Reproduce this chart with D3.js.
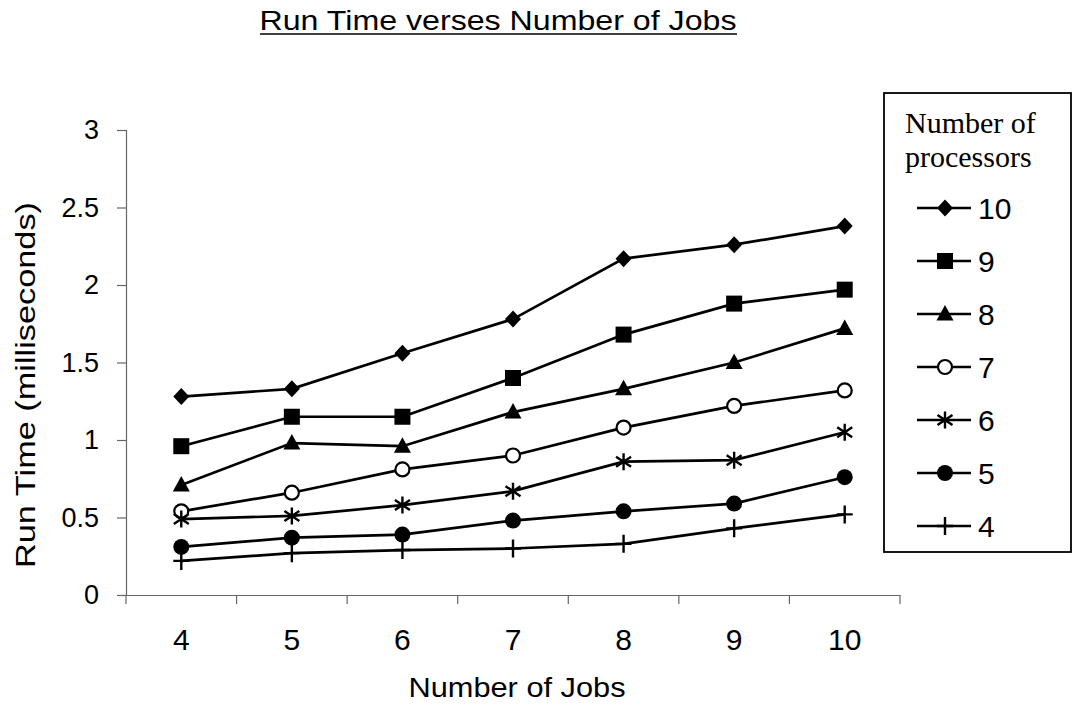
<!DOCTYPE html>
<html>
<head>
<meta charset="utf-8">
<script src="https://cdn.jsdelivr.net/npm/d3@7"></script>
<style>
  body { margin: 0; background: #fff; }
  svg text { font-family: "Liberation Sans", Arial, sans-serif; fill: #000; }
</style>
</head>
<body>
<svg></svg>
<script>
// number of jobs (x categories)
let jobs = ["4", "5", "6", "7", "8", "9", "10"]
let yTicks = [0, 0.5, 1, 1.5, 2, 2.5, 3]

// run time per number of processors
let p10 = [1.28, 1.33, 1.56, 1.78, 2.17, 2.26, 2.38]
let p9 = [0.96, 1.15, 1.15, 1.40, 1.68, 1.88, 1.97]
let p8 = [0.71, 0.98, 0.96, 1.18, 1.33, 1.50, 1.72]
let p7 = [0.54, 0.66, 0.81, 0.90, 1.08, 1.22, 1.32]
let p6 = [0.49, 0.51, 0.58, 0.67, 0.86, 0.87, 1.05]
let p5 = [0.31, 0.37, 0.39, 0.48, 0.54, 0.59, 0.76]
let p4 = [0.22, 0.27, 0.29, 0.30, 0.33, 0.43, 0.52]

let seriesNames = ["10", "9", "8", "7", "6", "5", "4"]
let seriesValues = [p10, p9, p8, p7, p6, p5, p4]
let markers = ["diamond", "square", "triangle", "openCircle", "asterisk", "circle", "plus"]

let width = 1074
let height = 712
let plotLeft = 126
let plotRight = 900
let plotTop = 130
let plotBottom = 595

let svg = d3.select("svg").attr("width", width).attr("height", height)

let xScale = d3.scaleBand().domain(jobs).range([plotLeft, plotRight])
let yScale = d3.scaleLinear().domain([0, 3]).range([plotBottom, plotTop])

// marker drawing
let drawMarker = (g, type) => {
    if (type == "diamond") {
        g.append("path").attr("d", "M0,-8.5L8,0L0,8.5L-8,0Z").attr("fill", "#000")
    } else if (type == "square") {
        g.append("rect").attr("x", -8).attr("y", -8).attr("width", 16).attr("height", 16).attr("fill", "#000")
    } else if (type == "triangle") {
        g.append("path").attr("d", "M0,-9L8.5,6.5L-8.5,6.5Z").attr("fill", "#000")
    } else if (type == "openCircle") {
        g.append("circle").attr("r", 7).attr("fill", "#fff").attr("stroke", "#000").attr("stroke-width", 2.2)
    } else if (type == "circle") {
        g.append("circle").attr("r", 8).attr("fill", "#000")
    } else if (type == "asterisk") {
        g.append("path").attr("d", "M0,-8.5L0,8.5M-7.5,-5L7.5,5M-7.5,5L7.5,-5")
            .attr("stroke", "#000").attr("stroke-width", 2.4).attr("fill", "none")
    } else if (type == "plus") {
        g.append("path").attr("d", "M0,-9L0,9M-8,0L8,0")
            .attr("stroke", "#000").attr("stroke-width", 2.4).attr("fill", "none")
    }
}

// axes
let xAxis = d3.axisBottom(xScale).tickSize(0).tickFormat("")
let xg = svg.append("g").attr("transform", "translate(0," + plotBottom + ")").call(xAxis)
xg.select(".domain").attr("stroke", "#666").attr("stroke-width", 1.2)
xg.selectAll(".bound")
    .data(d3.range(jobs.length + 1))
    .enter()
    .append("line")
    .attr("x1", i => plotLeft + i * xScale.step())
    .attr("x2", i => plotLeft + i * xScale.step())
    .attr("y1", 0).attr("y2", 9)
    .attr("stroke", "#666").attr("stroke-width", 1.2)

svg.selectAll(".xlab")
    .data(jobs)
    .enter()
    .append("text")
    .attr("x", d => xScale(d) + xScale.bandwidth() / 2)
    .attr("y", 650)
    .attr("text-anchor", "middle")
    .style("font-size", "30px")
    .text(d => d)

let yAxis = d3.axisLeft(yScale).tickValues(yTicks).tickSize(9).tickPadding(18)
    .tickFormat(d => d)
let yg = svg.append("g").attr("transform", "translate(" + plotLeft + ",0)").call(yAxis)
yg.select(".domain").attr("stroke", "#666").attr("stroke-width", 1.2)
yg.selectAll(".tick line").attr("stroke", "#666").attr("stroke-width", 1.2)
yg.selectAll(".tick text").style("font-size", "27px").attr("fill", "#000")
    .style("font-family", "'Liberation Sans', Arial, sans-serif")

// lines + markers
let line = d3.line()
    .x((d, i) => xScale(jobs[i]) + xScale.bandwidth() / 2)
    .y(d => yScale(d))

seriesValues.forEach((vals, s) => {
    svg.append("path")
        .datum(vals)
        .attr("d", line)
        .attr("fill", "none")
        .attr("stroke", "#000")
        .attr("stroke-width", 2.7)

    vals.forEach((v, i) => {
        let g = svg.append("g")
            .attr("transform", "translate(" + (xScale(jobs[i]) + xScale.bandwidth() / 2) + "," + yScale(v) + ")")
        drawMarker(g, markers[s])
    })
})

// titles
svg.append("text")
    .attr("x", 498).attr("y", 30)
    .attr("text-anchor", "middle")
    .attr("textLength", 477).attr("lengthAdjust", "spacingAndGlyphs")
    .style("font-size", "27px")
    .text("Run Time verses Number of Jobs")
svg.append("line")
    .attr("x1", 260).attr("x2", 737).attr("y1", 34).attr("y2", 34)
    .attr("stroke", "#000").attr("stroke-width", 1.5)

svg.append("text")
    .attr("x", 517).attr("y", 697)
    .attr("text-anchor", "middle")
    .attr("textLength", 217).attr("lengthAdjust", "spacingAndGlyphs")
    .style("font-size", "28px")
    .text("Number of Jobs")

svg.append("text")
    .attr("transform", "translate(35, 385) rotate(-90)")
    .attr("text-anchor", "middle")
    .attr("textLength", 366).attr("lengthAdjust", "spacingAndGlyphs")
    .style("font-size", "27px")
    .text("Run Time (milliseconds)")

// legend
let legend = svg.append("g")
legend.append("rect")
    .attr("x", 884).attr("y", 93).attr("width", 187).attr("height", 459)
    .attr("fill", "#fff").attr("stroke", "#000").attr("stroke-width", 1.8)
legend.append("text").attr("x", 905).attr("y", 133)
    .style("font-family", "'Liberation Serif', 'Times New Roman', serif").style("font-size", "30px")
    .text("Number of")
legend.append("text").attr("x", 905).attr("y", 167)
    .style("font-family", "'Liberation Serif', 'Times New Roman', serif").style("font-size", "30px")
    .text("processors")

seriesNames.forEach((name, s) => {
    let y = 208 + s * 53
    legend.append("line").attr("x1", 917).attr("x2", 971).attr("y1", y).attr("y2", y)
        .attr("stroke", "#000").attr("stroke-width", 2.5)
    let g = legend.append("g").attr("transform", "translate(945," + y + ")")
    drawMarker(g, markers[s])
    legend.append("text").attr("x", 978).attr("y", y + 11)
        .style("font-size", "30px")
        .text(name)
})
</script>
</body>
</html>
